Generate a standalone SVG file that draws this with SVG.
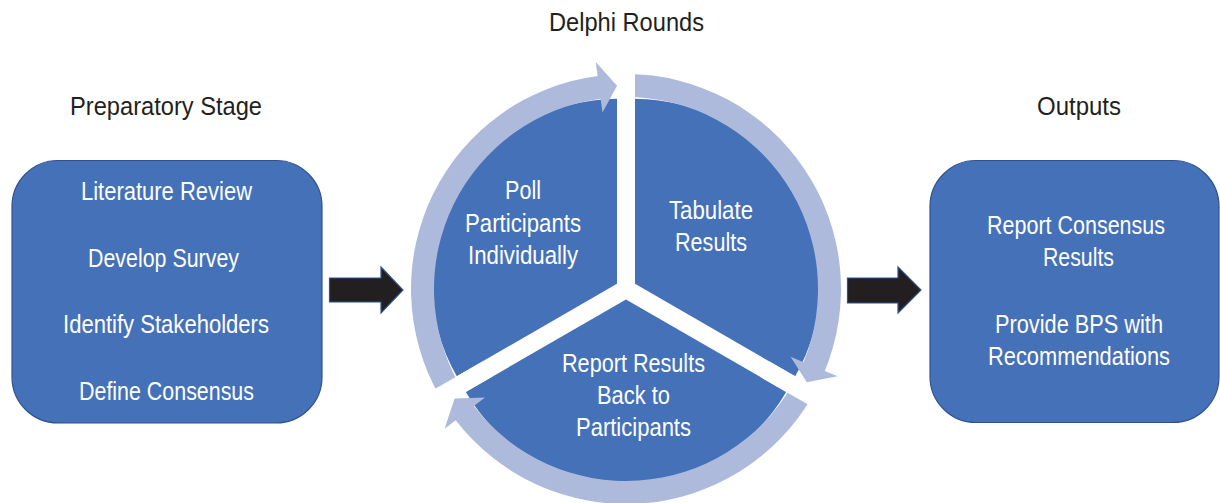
<svg xmlns="http://www.w3.org/2000/svg" width="1220" height="503" viewBox="0 0 1220 503">
<style>
.t{font-family:"Liberation Sans",Arial,sans-serif;font-size:25px;text-anchor:middle}
.w{fill:#ffffff}
.k{fill:#231f20}
.box{fill:#4571b8;stroke:#2f528f;stroke-width:1.2}
.sec{fill:#4571b8}
.ring{fill:#aebadc}
.arr{fill:#231f20;stroke:#2f528f;stroke-width:1.2}
</style>
<rect width="1220" height="503" fill="#ffffff"/>
<text class="t k" x="626.5" y="31" textLength="155" lengthAdjust="spacingAndGlyphs">Delphi Rounds</text>
<text class="t k" x="166" y="115" textLength="192" lengthAdjust="spacingAndGlyphs">Preparatory Stage</text>
<text class="t k" x="1079" y="115" textLength="84" lengthAdjust="spacingAndGlyphs">Outputs</text>

<g id="prep">
<rect class="box" x="12" y="160.5" width="310" height="262.5" rx="46"/>
<text class="t w" x="166.5" y="200" textLength="171" lengthAdjust="spacingAndGlyphs">Literature Review</text>
<text class="t w" x="163.5" y="267" textLength="151" lengthAdjust="spacingAndGlyphs">Develop Survey</text>
<text class="t w" x="166" y="333" textLength="206" lengthAdjust="spacingAndGlyphs">Identify Stakeholders</text>
<text class="t w" x="166.5" y="400" textLength="175" lengthAdjust="spacingAndGlyphs">Define Consensus</text>
</g>

<g id="outputs">
<rect class="box" x="930" y="160.5" width="289" height="262" rx="46"/>
<text class="t w" x="1076" y="234" textLength="178" lengthAdjust="spacingAndGlyphs">Report Consensus</text>
<text class="t w" x="1078.5" y="266" textLength="71" lengthAdjust="spacingAndGlyphs">Results</text>
<text class="t w" x="1079" y="333" textLength="168" lengthAdjust="spacingAndGlyphs">Provide BPS with</text>
<text class="t w" x="1079" y="365" textLength="182" lengthAdjust="spacingAndGlyphs">Recommendations</text>
</g>

<g id="cycle">
<g id="poll">
<path class="sec" d="M617 283.8 L456.8 376.3 A185 185 0 0 1 617 98.8 Z"/>
<text class="t w" x="523" y="199" textLength="36" lengthAdjust="spacingAndGlyphs">Poll</text>
<text class="t w" x="523" y="232" textLength="116" lengthAdjust="spacingAndGlyphs">Participants</text>
<text class="t w" x="523" y="264" textLength="110" lengthAdjust="spacingAndGlyphs">Individually</text>
</g>
<g id="tabulate">
<path class="sec" d="M635 283.8 L635 98.8 A185 185 0 0 1 795.2 376.3 Z"/>
<text class="t w" x="711" y="219" textLength="84" lengthAdjust="spacingAndGlyphs">Tabulate</text>
<text class="t w" x="711" y="251" textLength="72" lengthAdjust="spacingAndGlyphs">Results</text>
</g>
<g id="report">
<path class="sec" d="M626 299.4 L786.2 391.9 A185 185 0 0 1 465.8 391.9 Z"/>
<text class="t w" x="633.5" y="372" textLength="143" lengthAdjust="spacingAndGlyphs">Report Results</text>
<text class="t w" x="633.5" y="404" textLength="73" lengthAdjust="spacingAndGlyphs">Back to</text>
<text class="t w" x="633.5" y="436" textLength="115" lengthAdjust="spacingAndGlyphs">Participants</text>
</g>
</g>

<g id="connectors">
<path class="ring" d="M439.8 396.5 A215 215 0 0 1 597.6 75.9 L595.7 62 L617.1 85.7 L602.5 112.6 L600.6 98.7 A192 192 0 0 0 459.7 385 Z"/>
<path class="ring" d="M626 74 A215 215 0 0 1 824.8 370.9 L837.7 376.3 L806.8 382.3 L790.6 356.8 L803.5 362.2 A192 192 0 0 0 626 97 Z"/>
<path class="ring" d="M812.2 396.5 A215 215 0 0 1 455.7 420.2 L444.6 428.7 L454.6 398.6 L485 397.6 L473.9 406.1 A192 192 0 0 0 792.3 385 Z"/>
<g stroke="#ffffff" stroke-width="18">
<line x1="626" y1="129" x2="626" y2="44"/>
<line x1="764.6" y1="369" x2="838.2" y2="411.5"/>
<line x1="487.4" y1="369" x2="413.8" y2="411.5"/>
</g>
<path class="arr" d="M329.5 278 L381 278 L381 267 L403 290 L381 313 L381 302 L329.5 302 Z"/>
<path class="arr" d="M847.5 278 L898 278 L898 267 L921 290 L898 313 L898 303 L847.5 303 Z"/>
</g>
</svg>
